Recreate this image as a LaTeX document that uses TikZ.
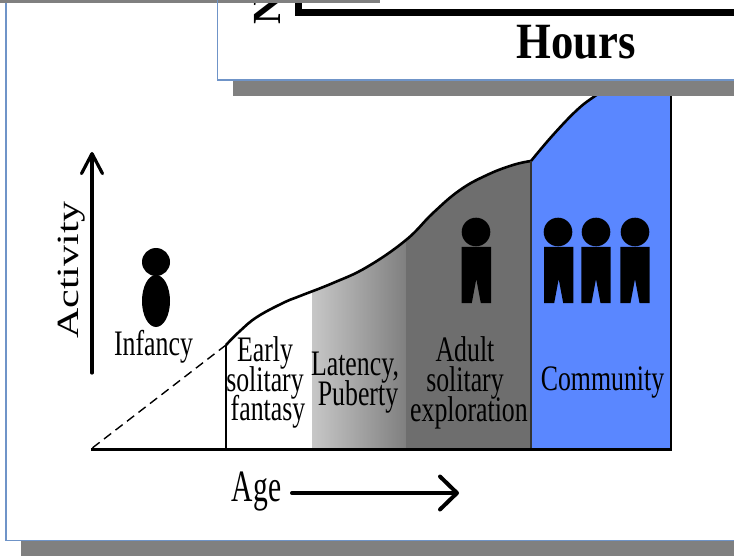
\documentclass[tikz,border=0pt]{standalone}
\usepackage{fontspec}
\usetikzlibrary{arrows.meta}
\setmainfont{Liberation Serif}
\newfontfamily\narrowfont[FakeStretch=0.72]{Liberation Serif}
\newfontfamily\agefont[FakeStretch=0.66]{Liberation Serif}
\newfontfamily\wideserif[FakeStretch=1.36]{Liberation Serif}
\newfontfamily\hoursfont[FakeStretch=0.88]{Liberation Serif Bold}
\definecolor{shadowgray}{HTML}{808080}
\definecolor{slideedge}{HTML}{6F94C8}
\definecolor{adultgray}{HTML}{6E6E6E}
\definecolor{commblue}{HTML}{5A87FF}
\newcommand{\stagefont}{\narrowfont\fontsize{36}{30}\selectfont\lineskiplimit=-50pt\relax}
\tikzset{
  x=1bp,y=-1bp,
  slide/.style={fill=white,draw=slideedge,line width=1.2bp},
  shade box/.style={fill=shadowgray,draw=none},
  curveline/.style={line width=2.6bp,line join=round},
  axisline/.style={line width=3.2bp,line cap=round},
  stagelabel/.style={font=\stagefont,align=center,inner sep=0pt,text=black},
}
% body with a notch between the legs: #1 = centre x
\newcommand{\legbody}[1]{%
  \fill[black] (#1-14.7,247) -- (#1+14.7,247) -- (#1+14.7,303) -- (#1+4.5,303) -- (#1,279) -- (#1-4.5,303) -- (#1-14.7,303) -- cycle;}
\begin{document}
\begin{tikzpicture}
\useasboundingbox (0,0) rectangle (734,556);
\fill[white] (0,0) rectangle (734,556);
% outer slide
\fill[shadowgray] (0,0) rectangle (380,3);
\path[shade box] (21,541) rectangle (734,556);
\path[slide] (6,3) -- (6,540.5) -- (740,540.5) -- (740,3);
\fill[shadowgray] (0,0) rectangle (380,3);
% regions
\fill[commblue] (531,161) -- plot[smooth,tension=.7] coordinates {(531,161) (553,135) (577,110) (595,96) (612,85)} -- (671,85) -- (671,449) -- (531,449) -- cycle;
\fill[adultgray] plot[smooth,tension=.7] coordinates {(406,240) (433,213) (460,190) (487,175) (513,165) (531,161)} -- (531,449) -- (406,449) -- cycle;
\path[left color=black!22,right color=black!50] plot[smooth,tension=.7] coordinates {(312,291) (333,283) (367,267) (406,240)} -- (406,449) -- (312,449) -- cycle;
% coordinates
\coordinate (origin) at (91,449);
\coordinate (axisend) at (672,449);
\coordinate (curvestart) at (226,345);
\coordinate (curvebase) at (226,449);
\coordinate (splitTop) at (531,161);
\coordinate (splitBase) at (531,449);
\coordinate (rightTop) at (671,85);
\coordinate (rightBase) at (671,449);
\coordinate (activityFrom) at (92,373);
\coordinate (activityTo) at (92,152);
\coordinate (ageFrom) at (292,493);
\coordinate (ageTo) at (459,493);
% curves and lines
\draw[curveline] plot[smooth,tension=.7] coordinates {(226,345) (240,331) (257,317) (283,303) (300,296) (333,283) (367,267) (406,240) (433,213) (460,190) (487,175) (513,165) (531,161)};
\draw[curveline] plot[smooth,tension=.7] coordinates {(531,161) (553,135) (577,110) (595,96) (612,85)};
\draw[line width=1.4bp,dash pattern=on 9bp off 5.5bp] (curvestart) -- (origin);
\draw[line width=2.2bp] (curvestart) -- (curvebase);
\draw[line width=1.2bp,black!80] (splitTop) -- (splitBase);
\draw[line width=2.6bp] (rightTop) -- (rightBase);
\draw[line width=3bp] (origin) -- (axisend);
\draw[axisline,-{Straight Barb[length=20bp,width=21bp,round]}] (activityFrom) -- (activityTo);
\draw[axisline,line width=4bp,-{Straight Barb[length=17bp,width=33bp,round]}] (ageFrom) -- (ageTo);
% figures
\fill[black] (156,262) circle [radius=14];
\fill[black] (156,301) ellipse [x radius=14,y radius=26];
\fill[black] (476,232) circle [radius=14.3];
\legbody{476.3}
\fill[black] (558,232) circle [radius=14.3];
\legbody{558.7}
\fill[black] (596,232) circle [radius=14.3];
\legbody{596}
\fill[black] (635,232) circle [radius=14.3];
\legbody{635}
% labels
\node[stagelabel] (infancy) at (153.5,347) {Infancy};
\node[stagelabel] (early) at (265,382.5) {Early\\solitary\\\hspace*{6pt}fantasy};
\node[stagelabel] (latency) at (355,383) {Latency,\\\hspace*{6pt}Puberty};
\node[stagelabel] (adult) at (465,382.5) {Adult\\solitary\\\hspace*{8pt}exploration};
\node[stagelabel] (community) at (602.5,382.5) {Community};
\node[font=\agefont\fontsize{45}{45}\selectfont,inner sep=0pt] (age) at (256.5,492) {Age};
\node[font=\wideserif\fontsize{31}{31}\selectfont,rotate=90,inner sep=0pt] (activity) at (72,270) {Activity};
% upper chart panel
\path[shade box] (232.5,81) rectangle (734,96);
\path[slide] (740,80) -- (217.5,80) -- (217.5,0);
\fill[white] (218.1,0) rectangle (734,79.4);
\node[font=\bfseries\fontsize{40}{40}\selectfont,rotate=90,anchor=base west,inner sep=0pt] (axisN) at (280,25) {N};
\coordinate (barCorner) at (298.5,12.5);
\coordinate (barTop) at (298.5,-2);
\coordinate (barEnd) at (736,12.5);
\draw[line width=7bp,miter limit=10] (barTop) -- (barCorner) -- (barEnd);
\fill[shadowgray] (218,0) rectangle (380,3);
\node[font=\hoursfont\fontsize{51}{51}\selectfont,inner sep=0pt] (hours) at (576,42) {Hours};
\end{tikzpicture}
\end{document}
